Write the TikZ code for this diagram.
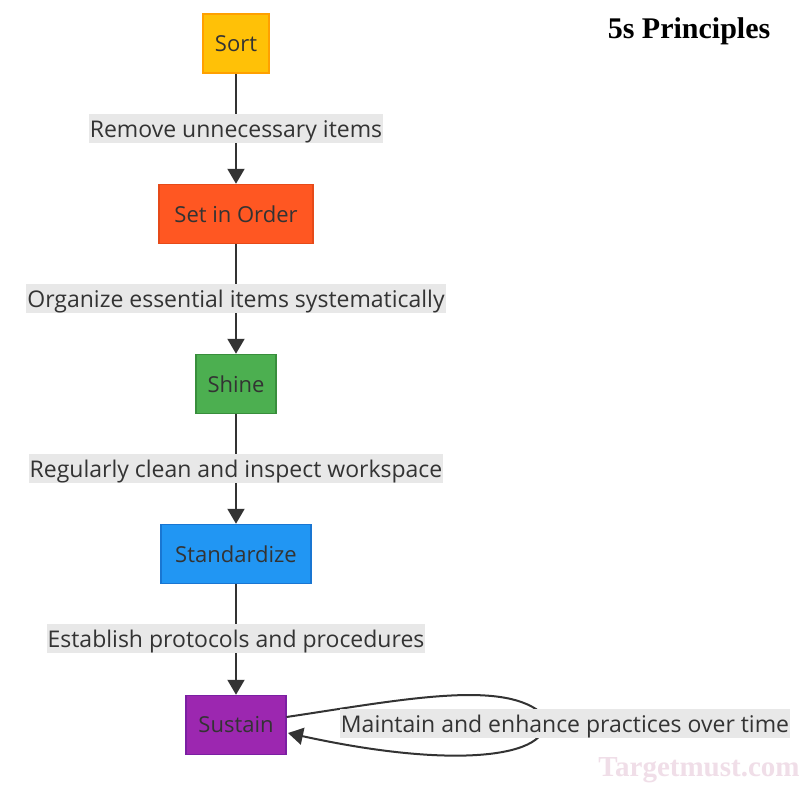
\documentclass[tikz,border=0pt]{standalone}
\usepackage{fontspec}
\setmainfont{Open Sans}
\newfontfamily\titlefont{Liberation Serif}
\usetikzlibrary{arrows.meta}
\definecolor{txt}{HTML}{333333}
\definecolor{lbl}{HTML}{E8E8E8}
\begin{document}
\begin{tikzpicture}[x=1pt,y=-1pt,
  box/.style={draw, line width=1.5pt, minimum height=59pt, inner xsep=10pt, text=txt, font=\fontsize{22}{26}\selectfont},
  elabel/.style={fill=lbl, text=txt, inner xsep=1pt, inner ysep=4pt, text height=19pt, text depth=2pt, font=\fontsize{23}{26}\selectfont},
  conn/.style={draw=txt, line width=2pt, -{Triangle[length=15pt,width=17pt]}}]
\useasboundingbox[fill=white] (0,0) rectangle (810,787);
\node[box, fill={rgb,255:red,255;green,193;blue,7}, draw={rgb,255:red,255;green,160;blue,0}, minimum width=66pt] (sort) at (236,43.5) {Sort};
\node[box, fill={rgb,255:red,255;green,87;blue,34}, draw={rgb,255:red,230;green,74;blue,25}, minimum width=154pt] (order) at (236,214) {Set in Order};
\node[box, fill={rgb,255:red,76;green,175;blue,80}, draw={rgb,255:red,56;green,142;blue,60}, minimum width=80pt] (shine) at (236,384) {Shine};
\node[box, fill={rgb,255:red,33;green,150;blue,243}, draw={rgb,255:red,25;green,118;blue,210}, minimum width=150pt] (std) at (236,554) {Standardize};
\node[box, fill={rgb,255:red,156;green,39;blue,176}, draw={rgb,255:red,123;green,31;blue,162}, minimum width=100pt] (sus) at (236,725) {Sustain};
\draw[conn] (sort) -- (order);
\draw[conn] (order) -- (shine);
\draw[conn] (shine) -- (std);
\draw[conn] (std) -- (sus);
\node[elabel] (l1) at (236,128.5) {Remove unnecessary items};
\node[elabel] (l2) at (236,298.5) {Organize essential items systematically};
\node[elabel] (l3) at (236,468.5) {Regularly clean and inspect workspace};
\node[elabel] (l4) at (236,638.5) {Establish protocols and procedures};
\coordinate (s1) at (286.5,717);
\coordinate (s2) at (288,733);
\draw[conn] (s1) .. controls (400,700) and (500,680) .. (540,712) .. controls (565,750) and (480,775) .. (s2);
\node[elabel] (l5) at (565,723.5) {Maintain and enhance practices over time};
\node[font=\titlefont\bfseries\fontsize{30}{34}\selectfont, text=black] (title) at (689,31) {5s Principles};
\node[font=\titlefont\bfseries\fontsize{29}{33}\selectfont, text={rgb,255:red,240;green,222;blue,232}] (wm) at (699,770) {Targetmust.com};
\end{tikzpicture}
\end{document}
